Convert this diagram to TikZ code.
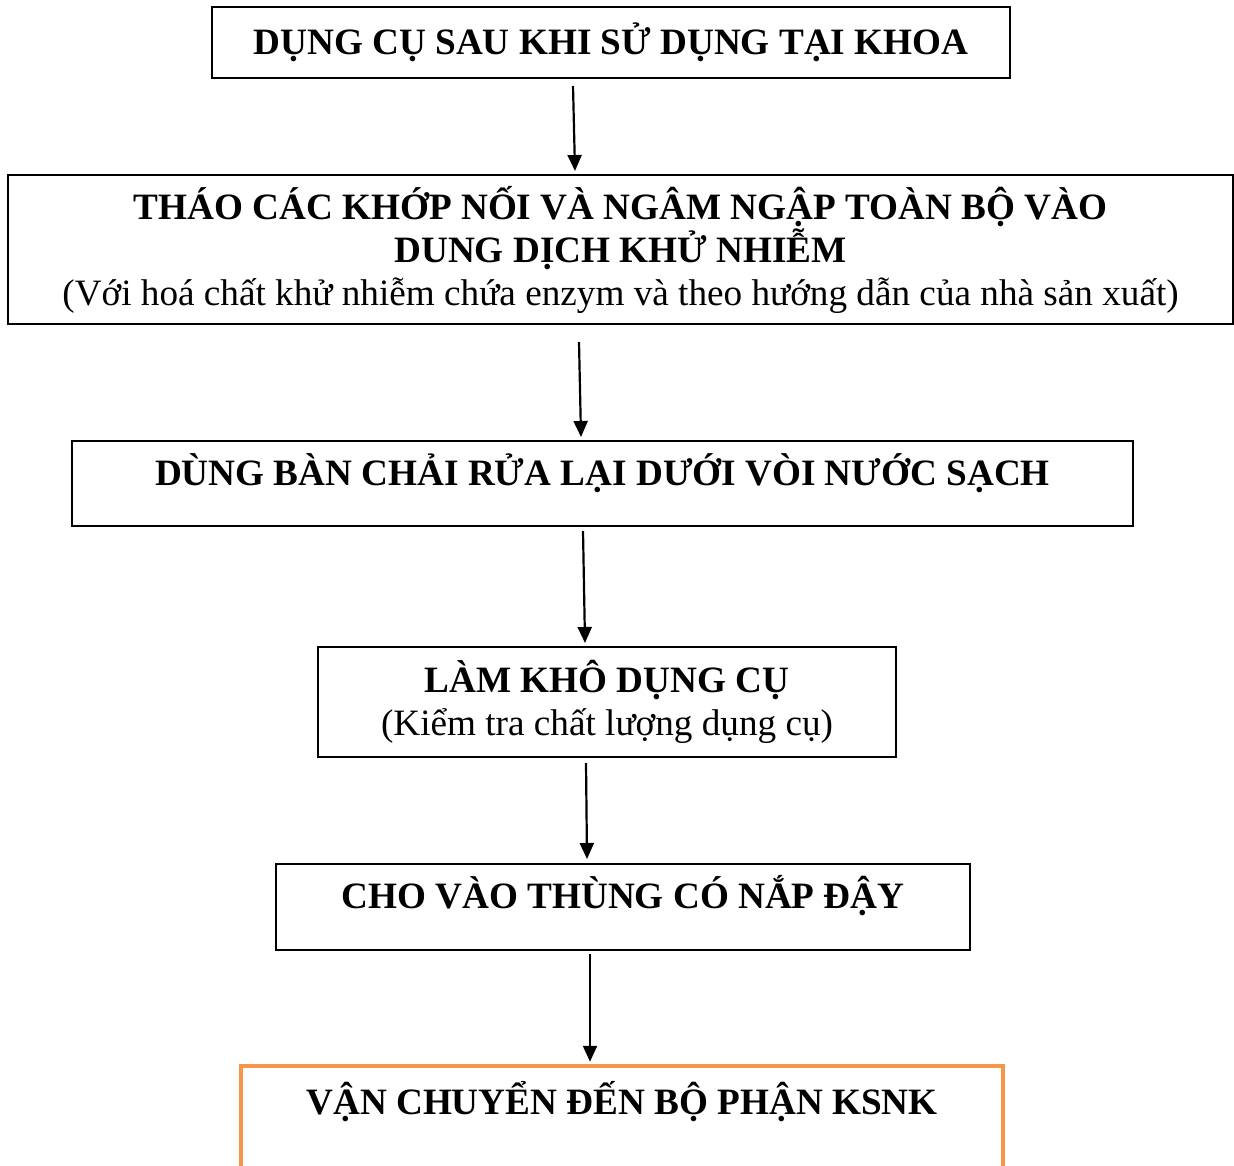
\documentclass[tikz,border=0pt]{standalone}
\usepackage{fontspec}
\setmainfont{Liberation Serif}
\usepackage{xcolor}
\usetikzlibrary{positioning,calc,arrows.meta}
\definecolor{ksnkorange}{HTML}{F79646}

\begin{document}
\begin{tikzpicture}[x=0.5pt,y=-0.5pt,
    stepbox/.style={draw,rectangle,line width=1pt,align=center,inner sep=0pt,
        font=\fontsize{18.6}{21.5}\selectfont},
    flow/.style={line width=1.1pt,-{Triangle[width=7pt,length=8pt]}}]
    \useasboundingbox (0,0) rectangle (1234,1165);

    % Steps
    \node[stepbox,minimum width=399pt,minimum height=35.5pt] (use) at (611,42.5)
        {\textbf{DỤNG CỤ SAU KHI SỬ DỤNG TẠI KHOA}};
    \node[stepbox,minimum width=612.5pt,minimum height=74.5pt] (soak) at (620.5,249.5)
        {\textbf{THÁO CÁC KHỚP NỐI VÀ NGÂM NGẬP TOÀN BỘ VÀO}\\
         \textbf{DUNG DỊCH KHỬ NHIỄM}\\
         (Với hoá chất khử nhiễm chứa enzym và theo hướng dẫn của nhà sản xuất)};
    \node[stepbox,minimum width=530.5pt,minimum height=42.5pt,text depth=14pt] (brush) at (602.5,483.5)
        {\textbf{DÙNG BÀN CHẢI RỬA LẠI DƯỚI VÒI NƯỚC SẠCH}};
    \node[stepbox,minimum width=289pt,minimum height=55pt] (dry) at (607,702)
        {\textbf{LÀM KHÔ DỤNG CỤ}\\
         (Kiểm tra chất lượng dụng cụ)};
    \node[stepbox,minimum width=347pt,minimum height=43pt,text depth=15pt] (bin) at (623,907)
        {\textbf{CHO VÀO THÙNG CÓ NẮP ĐẬY}};

    % Transport
    \node[stepbox,draw=ksnkorange,line width=2.25pt,minimum width=381pt,minimum height=65pt,
        text depth=33pt] (ksnk) at (622,1131)
        {\textbf{VẬN CHUYỂN ĐẾN BỘ PHẬN KSNK}};

    % Arrows
    \draw[flow] ([shift={(-38,7)}]use.south) -- ([shift={(-45.5,-3)}]soak.north);
    \draw[flow] ([shift={(-41.5,17)}]soak.south) -- ([shift={(-21.5,-3)}]brush.north);
    \draw[flow] ([shift={(-19.5,4)}]brush.south) -- ([shift={(-22,-3)}]dry.north);
    \draw[flow] ([shift={(-21,5)}]dry.south) -- ([shift={(-36,-4)}]bin.north);
    \draw[flow] ([shift={(-33,3)}]bin.south) -- ([shift={(-32,-2)}]ksnk.north);
\end{tikzpicture}
\end{document}
